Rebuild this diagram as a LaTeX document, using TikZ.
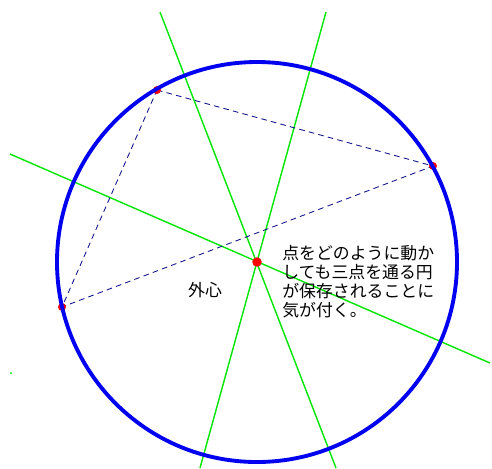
\documentclass[tikz,border=0pt]{standalone}
\usepackage{fontspec}
\usepackage{tikz}
\usepackage{xcolor}
\newfontfamily\jpfont{Noto Sans CJK JP}
\definecolor{bisec}{RGB}{0,230,0}
\definecolor{circ}{RGB}{0,0,240}
\definecolor{side}{RGB}{20,20,140}
\begin{document}
\begin{tikzpicture}[x=0.02cm,y=-0.02cm,
  bisector/.style={bisec,line width=0.8pt},
  sideline/.style={side,line width=0.5pt,dash pattern=on 3.2pt off 2.4pt},
  vertex/.style={red,fill=red,circle,inner sep=0pt,minimum size=0.16cm},
  jptext/.style={inner sep=0pt,text=black,font=\jpfont\fontsize{9.6}{10.8}\selectfont}]
\useasboundingbox (0,0) rectangle (492,468);
\coordinate (O) at (257,262);
\coordinate (A) at (157,90);
\coordinate (B) at (433,166);
\coordinate (C) at (62,307);
\coordinate (p1) at (160,12);
\coordinate (p2) at (336,468);
\coordinate (q1) at (326,12);
\coordinate (q2) at (200,468);
\coordinate (r1) at (10,154);
\coordinate (r2) at (490,363);
\draw[bisector] (p1)--(p2);
\draw[bisector] (q1)--(q2);
\draw[bisector] (r1)--(r2);
\fill[bisec] (11,373) circle[radius=1];
\draw[sideline] (A)--(B)--(C)--cycle;
\node[vertex] (a) at (A) {};
\node[vertex] (b) at (B) {};
\node[vertex] (c) at (C) {};
\draw[circ,line width=2.2pt] (O) circle[radius=200];
\node[vertex,minimum size=0.19cm] (o) at (O) {};
\node[jptext,anchor=north west,align=left] (note) at (282,245)
  {点をどのように動か\\しても三点を通る円\\が保存されることに\\気が付く。};
\node[jptext] (gaishin) at (205,290) {外心};
\end{tikzpicture}
\end{document}
